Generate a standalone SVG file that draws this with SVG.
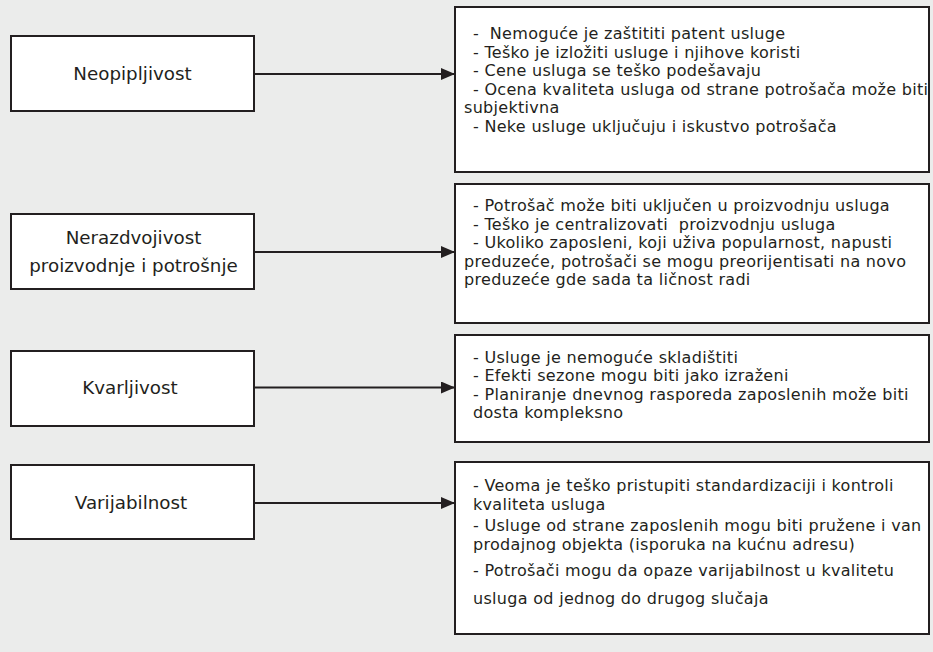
<svg xmlns="http://www.w3.org/2000/svg" width="933" height="652" viewBox="0 0 933 652">
<style>
.bg{fill:#ebeceb}
.box{fill:#ffffff;stroke:#231f20;stroke-width:2}
.lbl{font-family:"DejaVu Sans","Liberation Sans",sans-serif;font-size:18.3px;fill:#231f20;text-anchor:middle}
.txt{font-family:"DejaVu Sans","Liberation Sans",sans-serif;font-size:16px;letter-spacing:0.3px;fill:#231f20}
.conn{stroke:#231f20;stroke-width:2;fill:none}
.head{fill:#231f20}
</style>
<defs>
<marker id="arrow" viewBox="0 0 14 12" refX="14" refY="6" markerWidth="14" markerHeight="12" markerUnits="userSpaceOnUse" orient="auto">
<path class="head" d="M0,0 L14,6 L0,12 Z"/>
</marker>
</defs>
<rect class="bg" x="0" y="0" width="933" height="652"/>

<g id="connectors">
<line class="conn" x1="254" y1="74" x2="455" y2="74" marker-end="url(#arrow)"/>
<line class="conn" x1="254" y1="252" x2="455" y2="252" marker-end="url(#arrow)"/>
<line class="conn" x1="254" y1="387.5" x2="455" y2="387.5" marker-end="url(#arrow)"/>
<line class="conn" x1="254" y1="503" x2="455" y2="503" marker-end="url(#arrow)"/>
</g>

<g id="node-neopipljivost">
<rect class="box" x="11" y="36" width="243" height="75"/>
<text class="lbl" x="132.5" y="80">Neopipljivost</text>
</g>
<g id="node-nerazdvojivost">
<rect class="box" x="11" y="214" width="243" height="75"/>
<text class="lbl" x="133.5" y="244">Nerazdvojivost</text>
<text class="lbl" x="133.5" y="272">proizvodnje i potrošnje</text>
</g>
<g id="node-kvarljivost">
<rect class="box" x="11" y="351" width="243" height="75"/>
<text class="lbl" x="130" y="393.5">Kvarljivost</text>
</g>
<g id="node-varijabilnost">
<rect class="box" x="11" y="465" width="243" height="74"/>
<text class="lbl" x="131" y="508.5">Varijabilnost</text>
</g>

<g id="details-neopipljivost">
<rect class="box" x="455" y="7" width="474" height="165"/>
<text class="txt" xml:space="preserve"><tspan x="473" y="39">-  Nemoguće je zaštititi patent usluge</tspan><tspan x="473" y="57.6">- Teško je izložiti usluge i njihove koristi</tspan><tspan x="473" y="76.2">- Cene usluga se teško podešavaju</tspan><tspan x="473" y="94.8">- Ocena kvaliteta usluga od strane potrošača može biti</tspan><tspan x="464" y="113.3">subjektivna</tspan><tspan x="473" y="131.9">- Neke usluge uključuju i iskustvo potrošača</tspan></text>
</g>
<g id="details-nerazdvojivost">
<rect class="box" x="455" y="184" width="474" height="139"/>
<text class="txt" xml:space="preserve"><tspan x="473" y="211">- Potrošač može biti uključen u proizvodnju usluga</tspan><tspan x="473" y="229.6">- Teško je centralizovati  proizvodnju usluga</tspan><tspan x="473" y="248.2">- Ukoliko zaposleni, koji uživa popularnost, napusti</tspan><tspan x="464" y="266.8">preduzeće, potrošači se mogu preorijentisati na novo</tspan><tspan x="464" y="285.4">preduzeće gde sada ta ličnost radi</tspan></text>
</g>
<g id="details-kvarljivost">
<rect class="box" x="455" y="335" width="474" height="107"/>
<text class="txt"><tspan x="473" y="362.5">- Usluge je nemoguće skladištiti</tspan><tspan x="473" y="381.1">- Efekti sezone mogu biti jako izraženi</tspan><tspan x="473" y="399.7">- Planiranje dnevnog rasporeda zaposlenih može biti</tspan><tspan x="473" y="418.3">dosta kompleksno</tspan></text>
</g>
<g id="details-varijabilnost">
<rect class="box" x="455" y="462" width="474" height="172"/>
<text class="txt"><tspan x="473" y="491">- Veoma je teško pristupiti standardizaciji i kontroli</tspan><tspan x="473" y="510">kvaliteta usluga</tspan><tspan x="473" y="531">- Usluge od strane zaposlenih mogu biti pružene i van</tspan><tspan x="473" y="550">prodajnog objekta (isporuka na kućnu adresu)</tspan><tspan x="473" y="576">- Potrošači mogu da opaze varijabilnost u kvalitetu</tspan><tspan x="473" y="604">usluga od jednog do drugog slučaja</tspan></text>
</g>
</svg>
